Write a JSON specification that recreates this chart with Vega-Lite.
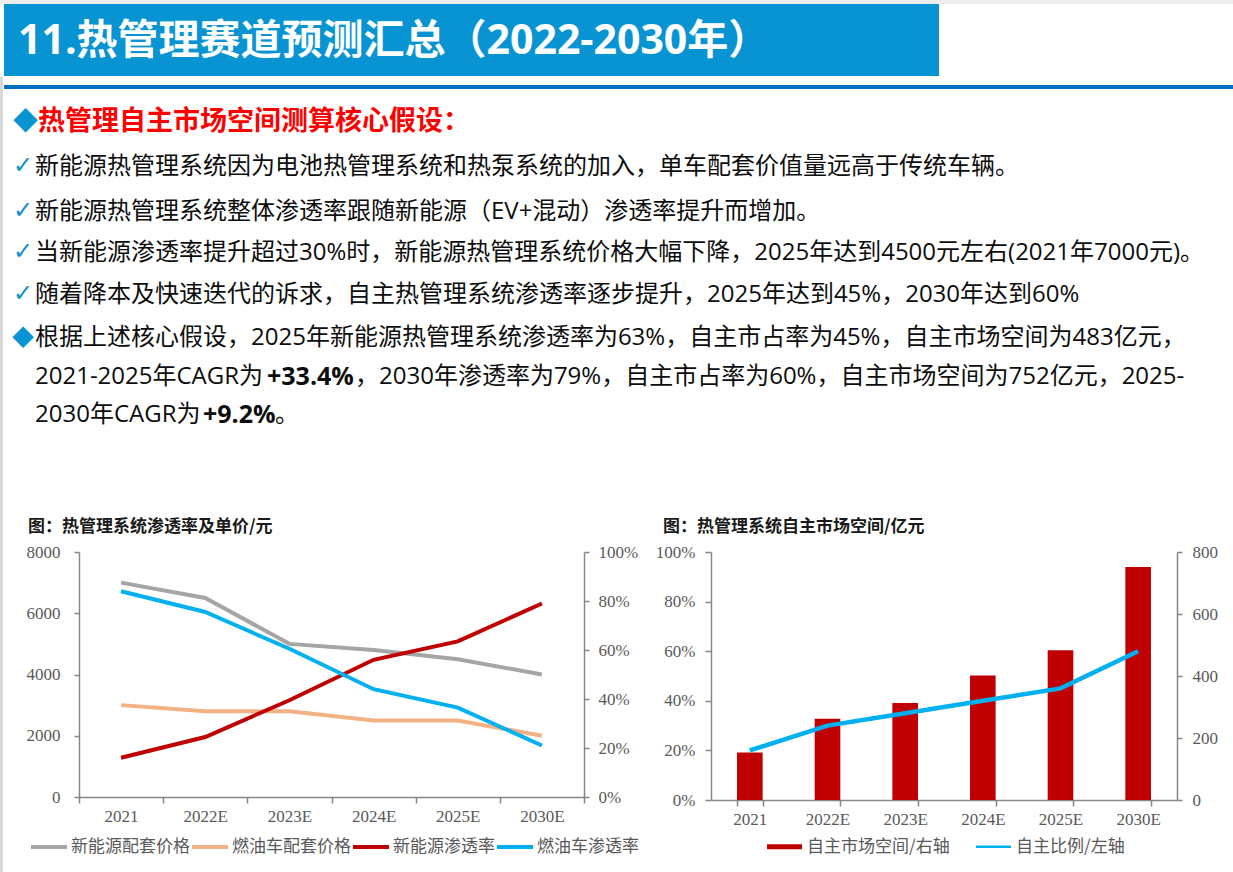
{
  "$schema": "https://vega.github.io/schema/vega-lite/v6.json",
  "background": "white",
  "padding": 0,
  "bounds": "flush",
  "spacing": 127,
  "resolve": {"scale": {"color": "independent", "x": "independent", "y": "independent"}, "legend": {"color": "independent"}},
  "config": {"view": {"stroke": null}},
  "hconcat": [
    {
      "width": 505,
      "height": 245,
      "resolve": {"scale": {"y": "independent"}},
      "layer": [
        {"data": {"values": [{}]}, "mark": {"type": "rect", "color": "#EEEEEE"}, "encoding": {"x": {"value": -79}, "x2": {"value": 1154}, "y": {"value": -552}, "y2": {"value": -548}}},
        {"data": {"values": [{}]}, "mark": {"type": "rect", "color": "#D9D9D9"}, "encoding": {"x": {"value": -79}, "x2": {"value": -76}, "y": {"value": -475}, "y2": {"value": 320}}},
        {"data": {"values": [{}]}, "mark": {"type": "rect", "color": "#0894D3"}, "encoding": {"x": {"value": -75}, "x2": {"value": 860}, "y": {"value": -548}, "y2": {"value": -476}}},
        {"data": {"values": [{}]}, "mark": {"type": "rect", "color": "#0070C0"}, "encoding": {"x": {"value": -75}, "x2": {"value": 1154}, "y": {"value": -467}, "y2": {"value": -463}}},
        {"data": {"values": [{"t": "11.热管理赛道预测汇总（2022-2030年）"}]}, "mark": {"type": "text", "align": "left", "baseline": "middle", "font": "'Open Sans', 'Noto Sans CJK SC'", "fontWeight": "bold", "fontSize": 41, "color": "#FFFFFF"}, "encoding": {"text": {"field": "t"}, "x": {"value": -61}, "y": {"value": -510}}},
        {"data": {"values": [{"t": "◆"}]}, "mark": {"type": "text", "align": "left", "baseline": "middle", "font": "Noto Sans CJK SC", "fontSize": 25, "color": "#0894D3"}, "encoding": {"text": {"field": "t"}, "x": {"value": -66}, "y": {"value": -430}}},
        {"data": {"values": [{"t": "热管理自主市场空间测算核心假设："}]}, "mark": {"type": "text", "align": "left", "baseline": "middle", "font": "Noto Sans CJK SC", "fontWeight": "bold", "fontSize": 27, "color": "#FF0000"}, "encoding": {"text": {"field": "t"}, "x": {"value": -41}, "y": {"value": -430}}},
        {"data": {"values": [{"t": "✓"}]}, "mark": {"type": "text", "align": "left", "baseline": "middle", "font": "DejaVu Sans", "fontSize": 24, "color": "#0E8FD0"}, "encoding": {"text": {"field": "t"}, "x": {"value": -66}, "y": {"value": -386}}},
        {"data": {"values": [{"t": "✓"}]}, "mark": {"type": "text", "align": "left", "baseline": "middle", "font": "DejaVu Sans", "fontSize": 24, "color": "#0E8FD0"}, "encoding": {"text": {"field": "t"}, "x": {"value": -66}, "y": {"value": -341}}},
        {"data": {"values": [{"t": "✓"}]}, "mark": {"type": "text", "align": "left", "baseline": "middle", "font": "DejaVu Sans", "fontSize": 24, "color": "#0E8FD0"}, "encoding": {"text": {"field": "t"}, "x": {"value": -66}, "y": {"value": -300}}},
        {"data": {"values": [{"t": "✓"}]}, "mark": {"type": "text", "align": "left", "baseline": "middle", "font": "DejaVu Sans", "fontSize": 24, "color": "#0E8FD0"}, "encoding": {"text": {"field": "t"}, "x": {"value": -66}, "y": {"value": -258}}},
        {"data": {"values": [{"t": "新能源热管理系统因为电池热管理系统和热泵系统的加入，单车配套价值量远高于传统车辆。"}]}, "mark": {"type": "text", "align": "left", "baseline": "middle", "font": "'Open Sans', 'Noto Sans CJK SC'", "fontSize": 24, "color": "#0D0D0D"}, "encoding": {"text": {"field": "t"}, "x": {"value": -44}, "y": {"value": -385}}},
        {"data": {"values": [{"t": "新能源热管理系统整体渗透率跟随新能源（EV+混动）渗透率提升而增加。"}]}, "mark": {"type": "text", "align": "left", "baseline": "middle", "font": "'Open Sans', 'Noto Sans CJK SC'", "fontSize": 24, "color": "#0D0D0D"}, "encoding": {"text": {"field": "t"}, "x": {"value": -44}, "y": {"value": -340}}},
        {"data": {"values": [{"t": "当新能源渗透率提升超过30%时，新能源热管理系统价格大幅下降，2025年达到4500元左右(2021年7000元)。"}]}, "mark": {"type": "text", "align": "left", "baseline": "middle", "font": "'Open Sans', 'Noto Sans CJK SC'", "fontSize": 24, "color": "#0D0D0D"}, "encoding": {"text": {"field": "t"}, "x": {"value": -44}, "y": {"value": -299}}},
        {"data": {"values": [{"t": "随着降本及快速迭代的诉求，自主热管理系统渗透率逐步提升，2025年达到45%，2030年达到60%"}]}, "mark": {"type": "text", "align": "left", "baseline": "middle", "font": "'Open Sans', 'Noto Sans CJK SC'", "fontSize": 24, "color": "#0D0D0D"}, "encoding": {"text": {"field": "t"}, "x": {"value": -44}, "y": {"value": -257}}},
        {"data": {"values": [{"t": "◆"}]}, "mark": {"type": "text", "align": "left", "baseline": "middle", "font": "Noto Sans CJK SC", "fontSize": 22, "color": "#0894D3"}, "encoding": {"text": {"field": "t"}, "x": {"value": -67}, "y": {"value": -214}}},
        {"data": {"values": [{"t": "根据上述核心假设，2025年新能源热管理系统渗透率为63%，自主市占率为45%，自主市场空间为483亿元，"}]}, "mark": {"type": "text", "align": "left", "baseline": "middle", "font": "'Open Sans', 'Noto Sans CJK SC'", "fontSize": 24, "color": "#0D0D0D"}, "encoding": {"text": {"field": "t"}, "x": {"value": -44}, "y": {"value": -214}}},
        {"data": {"values": [{"t": "2021-2025年CAGR为"}]}, "mark": {"type": "text", "align": "left", "baseline": "middle", "font": "'Open Sans', 'Noto Sans CJK SC'", "fontSize": 24, "color": "#0D0D0D"}, "encoding": {"text": {"field": "t"}, "x": {"value": -44}, "y": {"value": -175}}},
        {"data": {"values": [{"t": "+33.4%"}]}, "mark": {"type": "text", "align": "left", "baseline": "middle", "font": "'Open Sans', 'Noto Sans CJK SC'", "fontWeight": "bold", "fontSize": 25, "color": "#0D0D0D"}, "encoding": {"text": {"field": "t"}, "x": {"value": 188}, "y": {"value": -175}}},
        {"data": {"values": [{"t": "，2030年渗透率为79%，自主市占率为60%，自主市场空间为752亿元，2025-"}]}, "mark": {"type": "text", "align": "left", "baseline": "middle", "font": "'Open Sans', 'Noto Sans CJK SC'", "fontSize": 24, "color": "#0D0D0D"}, "encoding": {"text": {"field": "t"}, "x": {"value": 276}, "y": {"value": -175}}},
        {"data": {"values": [{"t": "2030年CAGR为"}]}, "mark": {"type": "text", "align": "left", "baseline": "middle", "font": "'Open Sans', 'Noto Sans CJK SC'", "fontSize": 24, "color": "#0D0D0D"}, "encoding": {"text": {"field": "t"}, "x": {"value": -44}, "y": {"value": -137}}},
        {"data": {"values": [{"t": "+9.2%"}]}, "mark": {"type": "text", "align": "left", "baseline": "middle", "font": "'Open Sans', 'Noto Sans CJK SC'", "fontWeight": "bold", "fontSize": 25, "color": "#0D0D0D"}, "encoding": {"text": {"field": "t"}, "x": {"value": 124}, "y": {"value": -137}}},
        {"data": {"values": [{"t": "。"}]}, "mark": {"type": "text", "align": "left", "baseline": "middle", "font": "'Open Sans', 'Noto Sans CJK SC'", "fontSize": 24, "color": "#0D0D0D"}, "encoding": {"text": {"field": "t"}, "x": {"value": 196}, "y": {"value": -137}}},
        {"data": {"values": [{"t": "图：热管理系统渗透率及单价/元"}]}, "mark": {"type": "text", "align": "left", "baseline": "middle", "font": "Noto Sans CJK SC", "fontWeight": "bold", "fontSize": 17, "color": "#1A1A1A"}, "encoding": {"text": {"field": "t"}, "x": {"value": -51}, "y": {"value": -25}}},
        {
          "data": {"values": [
            {"year": "2021", "series": "新能源配套价格", "v": 7000},
            {"year": "2022E", "series": "新能源配套价格", "v": 6500},
            {"year": "2023E", "series": "新能源配套价格", "v": 5000},
            {"year": "2024E", "series": "新能源配套价格", "v": 4800},
            {"year": "2025E", "series": "新能源配套价格", "v": 4500},
            {"year": "2030E", "series": "新能源配套价格", "v": 4000},
            {"year": "2021", "series": "燃油车配套价格", "v": 3000},
            {"year": "2022E", "series": "燃油车配套价格", "v": 2800},
            {"year": "2023E", "series": "燃油车配套价格", "v": 2800},
            {"year": "2024E", "series": "燃油车配套价格", "v": 2500},
            {"year": "2025E", "series": "燃油车配套价格", "v": 2500},
            {"year": "2030E", "series": "燃油车配套价格", "v": 2000}
          ]},
          "mark": {"type": "line", "strokeWidth": 4},
          "encoding": {
            "x": {"field": "year", "type": "ordinal", "sort": null, "bandPosition": 0.5,
                  "scale": {"type": "band", "domain": ["2021", "2022E", "2023E", "2024E", "2025E", "2030E"], "paddingInner": 0, "paddingOuter": 0},
                  "axis": {"title": null, "labelAngle": 0, "tickBand": "extent", "domainColor": "#868686", "tickColor": "#868686", "domainWidth": 1.5, "tickWidth": 1.5, "tickSize": 6, "labelFont": "Liberation Serif", "labelFontSize": 17, "labelColor": "#595959", "labelPadding": 5}},
            "y": {"field": "v", "type": "quantitative", "scale": {"domain": [0, 8000], "nice": false},
                  "axis": {"title": null, "grid": false, "format": "d", "values": [0, 2000, 4000, 6000, 8000], "domainColor": "#868686", "tickColor": "#868686", "domainWidth": 1.5, "tickWidth": 1.5, "tickSize": 5, "labelFont": "Liberation Serif", "labelFontSize": 17, "labelColor": "#595959", "labelPadding": 14}},
            "color": {"field": "series", "type": "nominal",
                      "scale": {"domain": ["新能源配套价格", "燃油车配套价格", "新能源渗透率", "燃油车渗透率"], "range": ["#A5A5A5", "#F4B183", "#C00000", "#00B0F0"]},
                      "legend": {"orient": "none", "legendX": -50, "legendY": 275, "direction": "horizontal", "title": null, "symbolType": "stroke", "symbolSize": 1296, "symbolStrokeWidth": 4, "labelFont": "Noto Sans CJK SC", "labelFontSize": 17, "labelColor": "#595959", "labelOffset": 2, "columnPadding": -7}}
          }
        },
        {
          "data": {"values": [
            {"year": "2021", "series": "新能源渗透率", "r": 0.16},
            {"year": "2022E", "series": "新能源渗透率", "r": 0.245},
            {"year": "2023E", "series": "新能源渗透率", "r": 0.395},
            {"year": "2024E", "series": "新能源渗透率", "r": 0.56},
            {"year": "2025E", "series": "新能源渗透率", "r": 0.635},
            {"year": "2030E", "series": "新能源渗透率", "r": 0.79},
            {"year": "2021", "series": "燃油车渗透率", "r": 0.84},
            {"year": "2022E", "series": "燃油车渗透率", "r": 0.755},
            {"year": "2023E", "series": "燃油车渗透率", "r": 0.605},
            {"year": "2024E", "series": "燃油车渗透率", "r": 0.44},
            {"year": "2025E", "series": "燃油车渗透率", "r": 0.365},
            {"year": "2030E", "series": "燃油车渗透率", "r": 0.21}
          ]},
          "mark": {"type": "line", "strokeWidth": 4},
          "encoding": {
            "x": {"field": "year", "type": "ordinal", "sort": null, "bandPosition": 0.5},
            "y": {"field": "r", "type": "quantitative", "scale": {"domain": [0, 1], "nice": false},
                  "axis": {"orient": "right", "title": null, "grid": false, "format": ".0%", "values": [0, 0.2, 0.4, 0.6, 0.8, 1], "domainColor": "#868686", "tickColor": "#868686", "domainWidth": 1.5, "tickWidth": 1.5, "tickSize": 5, "labelFont": "Liberation Serif", "labelFontSize": 17, "labelColor": "#595959", "labelPadding": 9}},
            "color": {"field": "series", "type": "nominal"}
          }
        }
      ]
    },
    {
      "width": 466,
      "height": 248,
      "resolve": {"scale": {"y": "independent"}},
      "layer": [
        {"data": {"values": [{"t": "图：热管理系统自主市场空间/亿元"}]}, "mark": {"type": "text", "align": "left", "baseline": "middle", "font": "Noto Sans CJK SC", "fontWeight": "bold", "fontSize": 17, "color": "#1A1A1A"}, "encoding": {"text": {"field": "t"}, "x": {"value": -48}, "y": {"value": -25}}},
        {
          "data": {"values": [
            {"year": "2021", "series": "自主市场空间/右轴", "m": 153},
            {"year": "2022E", "series": "自主市场空间/右轴", "m": 262},
            {"year": "2023E", "series": "自主市场空间/右轴", "m": 313},
            {"year": "2024E", "series": "自主市场空间/右轴", "m": 402},
            {"year": "2025E", "series": "自主市场空间/右轴", "m": 483},
            {"year": "2030E", "series": "自主市场空间/右轴", "m": 752}
          ]},
          "mark": {"type": "bar"},
          "encoding": {
            "x": {"field": "year", "type": "ordinal", "sort": null,
                  "scale": {"type": "band", "domain": ["2021", "2022E", "2023E", "2024E", "2025E", "2030E"], "paddingInner": 0.67, "paddingOuter": 0.335},
                  "axis": {"title": null, "labelAngle": 0, "tickBand": "extent", "domainColor": "#868686", "tickColor": "#868686", "domainWidth": 1.5, "tickWidth": 1.5, "tickSize": 6, "labelFont": "Liberation Serif", "labelFontSize": 17, "labelColor": "#595959", "labelPadding": 5}},
            "y": {"field": "m", "type": "quantitative", "scale": {"domain": [0, 800], "nice": false},
                  "axis": {"orient": "right", "title": null, "grid": false, "values": [0, 200, 400, 600, 800], "domainColor": "#868686", "tickColor": "#868686", "domainWidth": 1.5, "tickWidth": 1.5, "tickSize": 5, "labelFont": "Liberation Serif", "labelFontSize": 17, "labelColor": "#595959", "labelPadding": 10}},
            "color": {"field": "series", "type": "nominal",
                      "scale": {"domain": ["自主市场空间/右轴", "自主比例/左轴"], "range": ["#C00000", "#00B0F0"]},
                      "legend": {"orient": "none", "legendX": 56, "legendY": 277, "direction": "horizontal", "title": null, "symbolType": "M-1,-0.14H1V0.14H-1Z", "symbolSize": 1225, "symbolStrokeWidth": 0, "labelFont": "Noto Sans CJK SC", "labelFontSize": 17, "labelColor": "#595959", "labelOffset": 5, "columnPadding": 26,
                                 "encode": {"symbols": {"update": {"shape": {"signal": "datum.value === '自主比例/左轴' ? 'M-1,-0.065H1V0.065H-1Z' : 'M-1,-0.14H1V0.14H-1Z'"}, "fill": {"signal": "datum.value === '自主市场空间/右轴' ? '#C00000' : '#00B0F0'"}, "fillOpacity": {"value": 1}, "strokeWidth": {"value": 0}}}}}}
          }
        },
        {
          "data": {"values": [
            {"year": "2021", "series": "自主比例/左轴", "s": 0.20},
            {"year": "2022E", "series": "自主比例/左轴", "s": 0.30},
            {"year": "2023E", "series": "自主比例/左轴", "s": 0.35},
            {"year": "2024E", "series": "自主比例/左轴", "s": 0.40},
            {"year": "2025E", "series": "自主比例/左轴", "s": 0.45},
            {"year": "2030E", "series": "自主比例/左轴", "s": 0.60}
          ]},
          "mark": {"type": "line", "strokeWidth": 4.5},
          "encoding": {
            "x": {"field": "year", "type": "ordinal", "sort": null, "bandPosition": 0.5},
            "y": {"field": "s", "type": "quantitative", "scale": {"domain": [0, 1], "nice": false},
                  "axis": {"orient": "left", "title": null, "grid": false, "format": ".0%", "values": [0, 0.2, 0.4, 0.6, 0.8, 1], "domainColor": "#868686", "tickColor": "#868686", "domainWidth": 1.5, "tickWidth": 1.5, "tickSize": 6, "labelFont": "Liberation Serif", "labelFontSize": 17, "labelColor": "#595959", "labelPadding": 10}},
            "color": {"field": "series", "type": "nominal"}
          }
        }
      ]
    }
  ]
}
